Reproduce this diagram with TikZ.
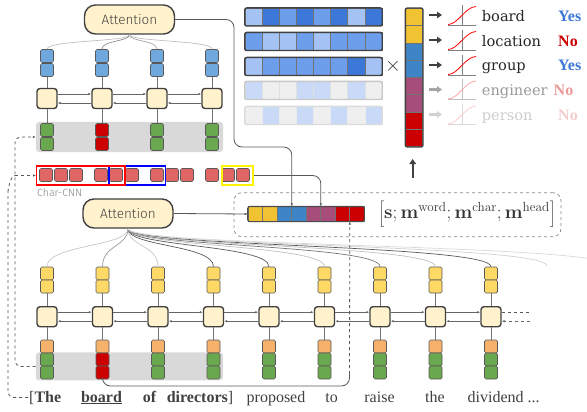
\documentclass[tikz,border=0pt]{standalone}
\usepackage[no-math]{fontspec}
\setmainfont{Liberation Serif}
\newfontfamily\attnfont{Fira Sans Light}
\newfontfamily\typefont{DejaVu Serif}
\usetikzlibrary{arrows.meta}

\definecolor{cellfill}{HTML}{FFF2CC}
\definecolor{ublue}{HTML}{6FA8DC}
\definecolor{wgreen}{HTML}{6AA84F}
\definecolor{wred}{HTML}{CC0000}
\definecolor{lyel}{HTML}{FFD966}
\definecolor{lorange}{HTML}{F6B26B}
\definecolor{cnnred}{HTML}{E06666}
\definecolor{cyel}{HTML}{F1C232}
\definecolor{cblue}{HTML}{3D85C6}
\definecolor{cpur}{HTML}{A64D79}
\definecolor{cred}{HTML}{CC0000}
\definecolor{mL}{HTML}{A4C2F4}
\definecolor{mM}{HTML}{6D9EEB}
\definecolor{mD}{HTML}{3C78D8}
\definecolor{fG}{HTML}{EFEFEF}
\definecolor{fP}{HTML}{C9DAF8}
\definecolor{ansyes}{HTML}{3C78D8}
\definecolor{ansno}{HTML}{CC0000}

\begin{document}
\begin{tikzpicture}
        [%%%%%%%%%%%%%%%%%%%%%%%%%%%%%%
            x=1pt, y=-1pt,
            vbox/.style={draw=black!65, line width=0.7pt, rounded corners=1.5pt, minimum size=13pt, inner sep=0pt},
            lstm/.style={draw=black!75, line width=1.4pt, fill=cellfill, rounded corners=3pt, minimum size=20pt, inner sep=0pt},
            attn/.style={draw=black!75, line width=1.4pt, fill=cellfill, rounded corners=11pt, minimum width=90pt, minimum height=29pt, font=\attnfont\fontsize{13.5}{16}\selectfont, text=black!75},
            graybg/.style={fill=black!15, rounded corners=3pt, inner sep=0pt},
            vline/.style={draw=black!55, line width=0.8pt},
            harrow/.style={draw=black!60, line width=0.8pt, -{Latex[length=3pt,width=2.5pt]}},
            conn/.style={draw=black!65, line width=0.8pt},
            mcell/.style={line width=0.6pt, minimum width=17.1pt, minimum height=17.5pt, inner sep=0pt},
            vcell/.style={draw=black!55, line width=0.6pt, minimum width=17pt, minimum height=17.3pt, inner sep=0pt},
            ccell/.style={draw=black!55, line width=0.6pt, minimum size=14.5pt, inner sep=0pt},
            word/.style={font=\fontsize{16}{19}\selectfont, text=black!75, inner sep=1pt},
            lbl/.style={anchor=base west, font=\typefont\fontsize{14.6}{18}\selectfont, inner sep=0pt},
            ans/.style={anchor=base west, font=\bfseries\fontsize{16}{18}\selectfont, inner sep=0pt},
        ]%%%%%%%%%%%%%%%%%%%%%%%%%%%%%%
        \useasboundingbox (0,0) rectangle (587,412);

        % upper encoder
        \node[graybg, minimum width=187pt, minimum height=30pt] (ugray) at (129.5,137) {};
        \foreach \i/\gc in {1/wgreen,2/wred,3/wgreen,4/wgreen}{
            \node[vbox, fill=ublue] (ub1-\i) at ({47+55*(\i-1)},56) {};
            \node[vbox, fill=ublue] (ub2-\i) at ({47+55*(\i-1)},70) {};
            \node[lstm] (uc\i) at ({47+55*(\i-1)},98.5) {};
            \node[vbox, fill=\gc] (ug1-\i) at ({47+55*(\i-1)},130) {};
            \node[vbox, fill=\gc] (ug2-\i) at ({47+55*(\i-1)},144) {};
            \draw[vline] (ub2-\i) -- (uc\i);
            \draw[vline] (uc\i) -- (ug1-\i);
        }
        \foreach \i [count=\j from 2] in {1,2,3}{
            \draw[harrow] ([yshift=4.5pt]uc\i.east) -- ([yshift=4.5pt]uc\j.west);
            \draw[harrow] ([yshift=-4.5pt]uc\j.west) -- ([yshift=-4.5pt]uc\i.east);
        }
        \node[attn] (attup) at (129.5,19.5) {Attention};
        \foreach \i/\c in {1/black!25,2/black!45,3/black!35,4/black!25}
            \draw[\c, line width=0.7pt] (attup.south) .. controls +(0,7) and +(0,-9) .. (ub1-\i.north);

        % char-cnn
        \foreach \x [count=\k] in {46,61,76,101,116,132,157,172,187,212,228,243}
            \node[vbox, fill=cnnred] (ch\k) at (\x,175) {};
        \node[draw=blue, line width=1.3pt, minimum width=56.7pt, minimum height=19pt, inner sep=0pt] (selblue) at (137.35,175.5) {};
        \node[draw=red, line width=1.3pt, minimum width=88.3pt, minimum height=19pt, inner sep=0pt] (selred) at (80.85,175.5) {};
        \node[draw=yellow, line width=1.8pt, minimum width=31.6pt, minimum height=19pt, inner sep=0pt] (selyel) at (237.5,175.5) {};
        \node[anchor=west, font=\attnfont\fontsize{10.5}{12}\selectfont, text=black!50, inner sep=0pt] (cnnlbl) at (37,193) {Char-CNN};

        % concatenation
        \node[draw=black!45, dashed, line width=0.8pt, rounded corners=8pt, minimum width=327pt, minimum height=44pt, inner sep=0pt] (cframe) at (397.5,214.7) {};
        \foreach \k/\c in {1/cyel,2/cyel,3/cblue,4/cblue,5/cpur,6/cpur,7/cred,8/cred}
            \node[ccell, fill=\c] (cv\k) at ({248+14.5*(\k-0.5)},214) {};
        \draw[black!70, line width=1.1pt, rounded corners=2pt] (cv1.north west) rectangle (cv8.south east);
        \node[text=black!80, font=\fontsize{17.28}{20}\selectfont] (form) at (467,214)
            {\scalebox{1.1}{$\bigg[\mathbf{s};\mathbf{m}^{\mathrm{word}};\mathbf{m}^{\mathrm{char}};\mathbf{m}^{\mathrm{head}}\bigg]$}};

        % lower encoder
        \node[attn] (attlow) at (128,213.5) {Attention};
        \node[graybg, minimum width=187pt, minimum height=28pt] (lgray) at (129.4,366.4) {};
        \foreach \i/\gc in {1/wgreen,2/wred,3/wgreen,4/wgreen,5/wgreen,6/wgreen,7/wgreen,8/wgreen,9/wgreen}{
            \node[vbox, fill=lyel] (ly1-\i) at ({47+55.5*(\i-1)},273.5) {};
            \node[vbox, fill=lyel] (ly2-\i) at ({47+55.5*(\i-1)},286.5) {};
            \node[lstm] (lc\i) at ({47+55.5*(\i-1)},316.7) {};
            \node[vbox, fill=lorange] (lo\i) at ({47+55.5*(\i-1)},346.5) {};
            \node[vbox, fill=\gc] (lg1-\i) at ({47+55.5*(\i-1)},359.5) {};
            \node[vbox, fill=\gc] (lg2-\i) at ({47+55.5*(\i-1)},372.5) {};
            \draw[vline] (ly2-\i) -- (lc\i);
            \draw[vline] (lc\i) -- (lo\i);
        }
        \foreach \i [count=\j from 2] in {1,...,8}{
            \draw[harrow] ([yshift=4.5pt]lc\i.east) -- ([yshift=4.5pt]lc\j.west);
            \draw[harrow] ([yshift=-4.5pt]lc\j.west) -- ([yshift=-4.5pt]lc\i.east);
        }
        \coordinate (rr1) at (530,312.2);
        \coordinate (rr2) at (530,321.2);
        \draw[conn, dashed] ([yshift=4.5pt]lc9.east) -- (rr1);
        \draw[harrow, dashed] (rr2) -- ([yshift=-4.5pt]lc9.east);

        \coordinate (far1) at (547,266);
        \coordinate (far2) at (612,266);
        \foreach \t/\c in {ly1-1.north/black!22, ly1-2.north/black!40, ly1-3.north/black!22, ly1-4.north/black!65, ly1-5.north/black!65, ly1-6.north/black!25, ly1-7.north/black!55, ly1-8.north/black!25, ly1-9.north/black!65, far1/black!18, far2/black!15}
            \draw[\c, line width=0.7pt] (attlow.south) .. controls +(0,18) and +(0,-22) .. (\t);

        % connectors
        \draw[conn, rounded corners=8pt, -{Latex[length=3pt,width=2.5pt]}] (attup.east) -| (234,147) -| (cv3.north east);
        \draw[conn, rounded corners=8pt, -{Latex[length=3pt,width=2.5pt]}] (selyel.east) -| (cv5.north east);
        \draw[conn, -{Latex[length=3pt,width=2.5pt]}] (attlow.east) -- (cv1.west);
        \coordinate (dcorner) at (349.5,386);
        \coordinate (dup) at (349.5,374);
        \draw[conn, rounded corners=8pt] (lg2-2.south) |- (dcorner) -- (dup);
        \draw[conn, dashed, -{Latex[length=3pt,width=2.5pt]}] (dup) -- (cv7.south east);

        % sentence
        \node[word, anchor=base west] (w1) at (28,402) {[\textbf{The}};
        \foreach \x/\t [count=\k from 2] in {101.5/\underline{\textbf{board}}, 149.5/\textbf{of}, 200/\textbf{directors}], 276/proposed, 331.7/to, 379.5/raise, 435/the}
            \node[word, anchor=base] (w\k) at (\x,402) {\t};
        \node[word, anchor=base] (w9) at (503.7,402) {dividend ...};

        \coordinate (jn) at (15,175.5);
        \draw[conn, dashed, rounded corners=6pt, -{Latex[length=3pt,width=2.5pt]}] (lgray.west) -| (15,250) |- (ugray.west);
        \draw[conn, dashed, -{Latex[length=3pt,width=2.5pt]}] (jn) -- (selred.west);
        \draw[conn, dashed, rounded corners=6pt] (w1.west) -| (8,186) to[out=-90,in=180] (jn);

        % type classifier
        \foreach \r/\yc/\fr/\cb/\row in {1/17/black!75/black!55/{mL,mD,mM,mD,mM,mD,mL,mD}, 2/41.5/black!75/black!55/{mM,mL,mL,mM,mL,mM,mM,mM}, 3/66.5/black!75/black!55/{mL,mM,mM,mM,mM,mM,mD,mL}, 4/90.5/black!22/black!12/{fP,fG,fG,fP,fP,fG,fP,fG}, 5/115.5/black!14/black!8/{fG,fP,fG,fP,fG,fP,fG,fP}}{
            \foreach \c [count=\k] in \row
                \node[mcell, fill=\c, draw=\cb] (m\r-\k) at ({245+17.125*(\k-0.5)},\yc) {};
            \draw[\fr, line width=1.4pt, rounded corners=2pt] (m\r-1.north west) rectangle (m\r-8.south east);
        }
        \node[text=black!75, font=\fontsize{20}{20}\selectfont, inner sep=0pt] (times) at (393,66) {$\times$};
        \foreach \k/\c in {1/cyel,2/cyel,3/cblue,4/cblue,5/cpur,6/cpur,7/cred,8/cred}
            \node[vcell, fill=\c] (v\k) at (414.2,{8.3+17.3*(\k-0.5)}) {};
        \draw[black!75, line width=1.4pt, rounded corners=2pt] (v1.north west) rectangle (v8.south east);
        \coordinate (upa) at (412.7,178);
        \draw[black!75, line width=2.4pt, -{Triangle[length=5pt,width=6.5pt]}] (upa) -- ++(0,-19);

        \foreach \r/\yc/\ac/\sc/\xc in {1/15/black!75/red/black!50, 2/40/black!75/red/black!50, 3/65/black!75/red/black!50, 4/89.5/black!35/red!35/black!25, 5/114.5/black!18/red!20/black!15}{
            \coordinate (ar\r) at (429,\yc);
            \draw[\ac, line width=2.2pt, -{Triangle[length=5pt,width=6.5pt]}] (ar\r) -- ++(13,0);
            \draw[\xc, line width=0.7pt] (462,{\yc-10}) -- (462,{\yc+10}) (448,{\yc+10}) -- (476,{\yc+10});
            \draw[\sc, line width=0.8pt] (448,{\yc+9.5}) .. controls (458,{\yc+9.5}) and (465,{\yc-8}) .. (476,{\yc-8.5});
        }
        \foreach \r/\yb/\t/\lc in {1/21.7/board/black!85, 2/46.3/location/black!85, 3/70.9/group/black!85, 4/95.5/engineer/black!40, 5/120.1/person/black!20}
            \node[lbl, text=\lc] (lbl\r) at (481.7,\yb) {\t};
        \foreach \r/\xb/\yb/\t/\ac in {1/558/21.7/Yes/ansyes, 2/558/46.3/No/ansno, 3/558/70.9/Yes/ansyes, 4/553.5/95.5/No/ansno!40, 5/558/120.1/No/ansno!20}
            \node[ans, text=\ac] (ans\r) at (\xb,\yb) {\t};
    \end{tikzpicture}
\end{document}
